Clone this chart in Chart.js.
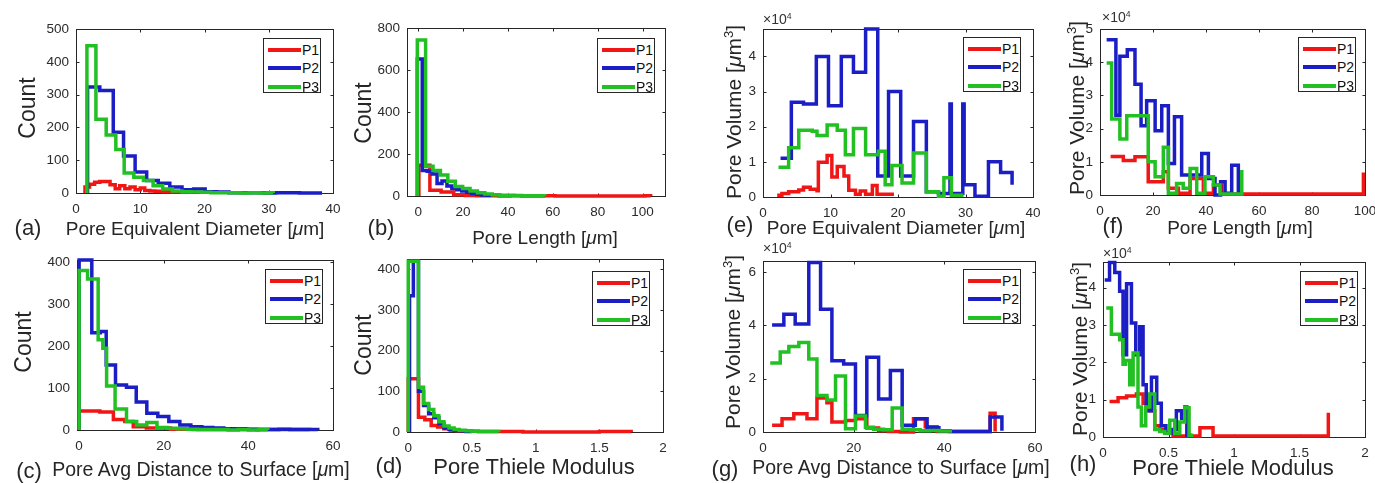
<!DOCTYPE html>
<html>
<head>
<meta charset="utf-8">
<script src="https://cdn.jsdelivr.net/npm/chart.js@4.4.1/dist/chart.umd.min.js"></script>
<style>
  html,body{margin:0;padding:0;background:#fff;}
  #wrap{position:relative;width:1375px;height:483px;overflow:hidden;background:#fff;
        font-family:"Liberation Sans",Arial,Helvetica,sans-serif;color:#262626;}
  #wrap canvas{position:absolute;}
  .t{position:absolute;white-space:nowrap;line-height:1;transform:translate(-50%,-50%);}
  .ty{position:absolute;white-space:nowrap;line-height:1;transform:translate(-50%,-50%) rotate(-90deg);}
  .mult{position:absolute;white-space:nowrap;line-height:1;font-size:14px;color:#333;}
  sup{font-size:0.62em;vertical-align:0.55em;line-height:0;}
  .leg{position:absolute;width:58px;height:55px;border:1px solid #262626;background:#fff;box-sizing:border-box;}
  .leg .row{position:absolute;left:0;height:16px;width:58px;}
  .leg .ln{position:absolute;left:4px;top:6px;width:33px;height:4px;}
  .leg .lb{position:absolute;left:38px;top:1px;font-size:14px;line-height:14px;color:#111;}
</style>
</head>
<body>
<div id="wrap"></div>
<script>
// ---------------- series names & colours ----------------
const NAMES = ['P1', 'P2', 'P3'];
const COLORS = ['#f01616', '#1a1ec4', '#22c022'];

// ---------------- (a) Pore Equivalent Diameter – Count ----------------
const a_xTicks = [0, 10, 20, 30, 40];
const a_yTicks = [0, 100, 200, 300, 400, 500];
const a_P1_x = [1.4,1.4,2.1,2.9,3.7,5.3,6.1,6.8,7.6,8.4,9.2,10.0,10.7,11.5,12.3,13.5,15.0,16.5,18.0];
const a_P1_y = [0,18,27,33,35,25,13,22,13,18,10,15,8,6,5,4,3,2,0];
const a_P2_x = [1.8,1.8,3.7,5.8,7.4,9.2,11.0,12.8,14.6,16.5,18.3,20.1,21.9,23.8,25.6,27.5,29.3,31.1,33.0,34.8,36.6,38.3];
const a_P2_y = [0,323,313,185,113,64,38,30,18,10,12,4,3,1,1,1,0,1,1,0,0,0];
const a_P3_x = [1.7,1.7,3.1,4.7,6.2,7.5,9.0,10.5,12.0,13.5,15.0,16.5,18.0,19.5,21.0,22.5,24.0,25.5,27.0,28.5,30.0,30.7];
const a_P3_y = [0,449,225,177,133,61,48,38,22,12,6,4,3,2,1,1,1,0,1,0,1,0];

// ---------------- (b) Pore Length – Count ----------------
const b_xTicks = [0, 20, 40, 60, 80, 100];
const b_yTicks = [0, 200, 400, 600, 800];
const b_P1_x = [0.3,0.3,5.2,10.2,15.8,21.0,26.0,31.0,36.0,41.0,46.0,51.0,56.0,61.0,66.0,71.0,76.0,81.0,86.0,91.0,96.0,101.0,103.6];
const b_P1_y = [0,146,27,19,6,2,1,1,0,1,0,0,1,0,0,0,0,0,0,0,0,1,0];
const b_P2_x = [-0.4,-0.4,1.8,4.0,6.2,8.4,10.6,12.8,15.0,17.2,19.4,21.6,23.8,26.0,28.2,30.4,32.6];
const b_P2_y = [0,653,122,118,105,60,72,48,36,30,24,18,12,8,5,3,0];
const b_P3_x = [-0.4,-0.4,3.3,6.6,9.9,13.2,16.5,19.8,23.1,26.4,29.7,33.0,36.3,39.6,42.9,46.2,49.5,52.8,56.4];
const b_P3_y = [0,743,142,122,100,70,45,36,24,15,10,6,4,3,2,1,1,1,0];

// ---------------- (c) Pore Avg Distance to Surface – Count ----------------
const c_xTicks = [0, 20, 40, 60];
const c_yTicks = [0, 100, 200, 300, 400];
const c_P1_x = [0,0,4.9,8.1,10.8,12.8,15.9,21.6,27.0,32.0,37.0,42.0,47.0,52.0,54.5];
const c_P1_y = [0,45,43,25,20,8,5,2,1,1,1,1,1,1,0];
const c_P2_x = [0,0,3.0,5.0,6.4,8.6,11.2,13.5,16.0,18.6,21.2,23.8,26.4,29.0,31.6,34.2,36.8,39.4,42.0,44.6,47.2,49.8,52.4,55.0,56.4];
const c_P2_y = [0,405,232,235,155,107,102,67,40,32,20,12,8,6,5,3,3,2,1,1,2,1,1,1,0];
const c_P3_x = [0,0,2.0,4.5,5.6,6.5,8.5,11.2,13.6,16.0,18.4,20.8,23.2,25.6,28.0,30.4,32.8,35.2,37.6,40.0,42.4,44.6];
const c_P3_y = [0,380,360,215,195,105,50,20,12,18,6,4,3,2,1,1,1,0,1,0,1,0];

// ---------------- (d) Pore Thiele Modulus – Count ----------------
const d_xTicks = [0, 0.5, 1, 1.5, 2];
const d_yTicks = [0, 100, 200, 300, 400];
const d_P1_x = [0,0,0.08,0.13,0.18,0.23,0.28,0.33,0.38,0.45,0.55,0.7,0.9,1.1,1.3,1.5,1.75];
const d_P1_y = [0,131,36,30,16,12,8,5,3,2,1,1,0,0,0,1,0];
const d_P2_x = [0.01,0.01,0.04,0.08,0.12,0.16,0.2,0.24,0.28,0.32,0.36,0.4,0.45,0.5];
const d_P2_y = [0,335,420,100,65,45,35,20,10,6,4,3,1,0];
const d_P3_x = [0,0,0.08,0.12,0.16,0.2,0.24,0.28,0.32,0.36,0.4,0.45,0.5,0.55,0.6,0.65,0.71];
const d_P3_y = [0,420,110,70,55,40,25,15,10,6,4,3,2,1,1,1,0];

// ---------------- (e) Pore Equivalent Diameter – Pore Volume (x10^4 um^3) ----------------
const e_xTicks = [0, 10, 20, 30, 40];
const e_yTicks = [0, 1, 2, 3, 4];
const e_P1_x = [2.1,2.8,3.8,5.3,6.0,7.0,8.0,8.2,9.5,10.2,11.0,12.0,12.7,13.7,14.4,15.2,16.2,16.9,19.4];
const e_P1_y = [0.05,0.1,0.15,0.2,0.28,0.22,0.18,0.99,1.18,0.57,0.87,0.6,0.19,0.08,0.17,0.08,0.33,0.08,0.08];
const e_P2_x = [2.6,4.2,6.0,7.9,9.7,11.6,13.4,15.2,17.0,18.6,20.4,22.3,24.2,26.0,27.7,27.9,29.6,29.8,31.4,33.4,35.2,36.9];
const e_P2_y = [1.1,2.7,2.65,4.0,2.6,4.0,3.55,4.78,0.6,3.0,0.6,2.15,0.15,0.1,2.65,0.1,2.65,0.35,0.02,1.0,0.7,0.35];
const e_P3_x = [2.3,3.8,5.3,7.3,8.0,9.5,11.0,12.2,13.4,15.2,17.1,18.1,19.1,20.6,22.3,24.2,26.0,26.8,27.9,29.7];
const e_P3_y = [0.85,1.4,1.9,1.87,1.75,2.05,1.9,1.2,1.95,1.2,1.3,0.35,0.9,0.4,1.25,0.15,0.02,0.55,0.05,0.05];

// ---------------- (f) Pore Length – Pore Volume (x10^4 um^3) ----------------
const f_xTicks = [0, 20, 40, 60, 80, 100];
const f_yTicks = [0, 1, 2, 3, 4, 5];
const f_P1_x = [4.0,8.8,13.2,18.2,23.9,25.8,29.6,34.0,39.0,42.8,45.9,99.4];
const f_P1_y = [1.16,1.04,1.15,0.4,0.7,0.2,0.05,0.5,0.05,0.3,0.03,0.68];
const f_P2_x = [2.5,6.0,7.5,10.3,13.2,15.5,17.6,20.8,23.3,25.8,28.1,30.8,33.3,35.8,38.4,40.9,43.4,45.5,47.2,49.7,52.2];
const f_P2_y = [4.68,2.4,4.18,4.38,3.34,2.09,2.84,1.94,2.69,0.95,2.36,0.6,0.6,0.6,1.25,0.5,0.0,0.4,0.05,0.9,0.05];
const f_P3_x = [2.5,4.4,7.5,10.1,18.2,20.8,23.9,25.8,28.9,31.4,34.0,36.5,39.6,42.8,45.3,53.5];
const f_P3_y = [3.98,2.29,1.69,2.39,1.0,0.55,1.44,0.05,0.35,0.2,0.8,0.05,0.55,0.3,0.03,0.75];

// ---------------- (g) Pore Avg Distance to Surface – Pore Volume (x10^4 um^3) ----------------
const g_xTicks = [0, 20, 40, 60];
const g_yTicks = [0, 2, 4, 6];
const g_P1_x = [2.0,4.2,6.8,9.7,11.9,14.1,15.2,18.2,20.4,22.9,25.5,27.7,30.3,33.2,35.8,38.4,50.1,51.2];
const g_P1_y = [0.25,0.5,0.68,0.5,1.27,1.1,0.37,0.43,0.5,0.15,0.05,0.02,0.0,0.5,0.2,0.02,0.7,0.02];
const g_P2_x = [2.0,4.6,7.1,10.1,12.7,15.2,17.8,20.4,22.9,25.5,28.1,30.7,33.6,36.2,38.8,41.3,43.9,46.4,50.1,52.7];
const g_P2_y = [4.01,4.41,4.04,6.35,4.6,2.67,2.55,0.62,2.8,1.24,2.3,0.25,0.5,0.16,0.05,0.02,0.02,0.02,0.56,0.05];
const g_P3_x = [1.6,3.8,5.7,7.9,10.1,11.9,14.1,16.0,18.2,20.4,22.6,24.4,26.6,28.5,30.7,32.5,34.7,36.9,39.0,41.7];
const g_P3_y = [2.58,3.0,3.2,3.35,2.73,1.37,1.2,2.1,0.12,0.6,0.18,0.1,0.08,0.9,0.1,0.08,0.05,0.06,0.04,0.04];

// ---------------- (h) Pore Thiele Modulus – Pore Volume (x10^4 um^3) ----------------
const h_xTicks = [0, 0.5, 1, 1.5, 2];
const h_yTicks = [0, 1, 2, 3, 4];
const h_P1_x = [0.05,0.115,0.18,0.255,0.306,0.357,0.395,0.433,0.471,0.535,0.74,0.84,1.72];
const h_P1_y = [0.95,1.05,1.1,1.15,0.9,0.7,0.3,0.2,0.1,0.03,0.25,0.03,0.65];
const h_P2_x = [0.013,0.05,0.09,0.127,0.153,0.18,0.217,0.25,0.28,0.306,0.33,0.37,0.41,0.445,0.48,0.52,0.56,0.6,0.625,0.64,0.675];
const h_P2_y = [4.2,4.67,4.4,3.9,2.2,4.1,3.05,2.2,2.95,1.4,0.7,1.6,0.9,0.3,0.1,0.2,0.7,0.5,0.8,0.05,0.05];
const h_P3_x = [0.025,0.064,0.127,0.153,0.173,0.204,0.23,0.267,0.293,0.326,0.357,0.395,0.433,0.471,0.51,0.548,0.586,0.624,0.657,0.69];
const h_P3_y = [3.45,2.75,2.6,1.95,2.05,1.4,2.25,0.8,0.3,0.8,1.15,0.2,0.15,0.1,0.45,0.1,0.4,0.78,0.05,0.05];

// ---------------- text ----------------
const UM = '[<i>&mu;</i>m]';
const VOL = 'Pore Volume [<i>&mu;</i>m<sup>3</sup>]';

// ---------------- layout (positions only) ----------------
const panels = [
  {tag:'(a)', area:[76,28,333,193],  xr:[0,40],  xt:a_xTicks, yr:[0,500],  yt:a_yTicks,
   s:[[a_P1_x,a_P1_y],[a_P2_x,a_P2_y],[a_P3_x,a_P3_y]],
   xTitle:'Pore Equivalent Diameter '+UM, xPos:[195,228,19], yTitle:'Count', yPos:[27,108,23],
   tagPos:[28,228], leg:[263,38]},
  {tag:'(b)', area:[407,27,665,196], xr:[-5,110], xt:b_xTicks, yr:[0,800], yt:b_yTicks,
   s:[[b_P1_x,b_P1_y],[b_P2_x,b_P2_y],[b_P3_x,b_P3_y]],
   xTitle:'Pore Length '+UM, xPos:[545,237,19], yTitle:'Count', yPos:[363,113,23],
   tagPos:[381,228], leg:[597,38]},
  {tag:'(e)', area:[763,28,1033,197], xr:[0,40], xt:e_xTicks, yr:[0,4.78], yt:e_yTicks,
   s:[[e_P1_x,e_P1_y],[e_P2_x,e_P2_y],[e_P3_x,e_P3_y]],
   xTitle:'Pore Equivalent Diameter '+UM, xPos:[896,227,19], yTitle:VOL, yPos:[733,112,21],
   tagPos:[740,225], leg:[963,37], mult:[763,12]},
  {tag:'(f)', area:[1100,28,1365,195], xr:[0,100], xt:f_xTicks, yr:[0,5], yt:f_yTicks,
   s:[[f_P1_x,f_P1_y],[f_P2_x,f_P2_y],[f_P3_x,f_P3_y]],
   xTitle:'Pore Length '+UM, xPos:[1240,227,19], yTitle:VOL, yPos:[1076,108,21],
   tagPos:[1113,226], leg:[1298,37], mult:[1102,10]},
  {tag:'(c)', area:[77,259,333,430], xr:[-0.5,60], xt:c_xTicks, yr:[0,405], yt:c_yTicks,
   s:[[c_P1_x,c_P1_y],[c_P2_x,c_P2_y],[c_P3_x,c_P3_y]],
   xTitle:'Pore Avg Distance to Surface '+UM, xPos:[201,470,19.5], yTitle:'Count', yPos:[23,342,23],
   tagPos:[29,471], leg:[265,269]},
  {tag:'(d)', area:[407,258,663,432], xr:[-0.01,2], xt:d_xTicks, yr:[0,425], yt:d_yTicks,
   s:[[d_P1_x,d_P1_y],[d_P2_x,d_P2_y],[d_P3_x,d_P3_y]],
   xTitle:'Pore Thiele Modulus', xPos:[534,467,22], yTitle:'Count', yPos:[363,345,23],
   tagPos:[389,466], leg:[592,271]},
  {tag:'(g)', area:[763,260,1035,432], xr:[0,60], xt:g_xTicks, yr:[0,6.4], yt:g_yTicks,
   s:[[g_P1_x,g_P1_y],[g_P2_x,g_P2_y],[g_P3_x,g_P3_y]],
   xTitle:'Pore Avg Distance to Surface '+UM, xPos:[901,468,19.5], yTitle:VOL, yPos:[732,342,21],
   tagPos:[725,469], leg:[963,269], mult:[763,241]},
  {tag:'(h)', area:[1103,261,1365,437], xr:[0,2], xt:h_xTicks, yr:[0,4.68], yt:h_yTicks,
   s:[[h_P1_x,h_P1_y],[h_P2_x,h_P2_y],[h_P3_x,h_P3_y]],
   xTitle:'Pore Thiele Modulus', xPos:[1233,468,22], yTitle:VOL, yPos:[1079,349,21],
   tagPos:[1083,464], leg:[1300,271], mult:[1103,246]}
];

Chart.defaults.font.family = '"Liberation Sans", Arial, Helvetica, sans-serif';

// MATLAB-like box with inward ticks on all four sides
const boxPlugin = {
  id: 'matlabBox',
  beforeDatasetsDraw(chart) {
    const {ctx, chartArea} = chart;
    const {left, top, right, bottom} = chartArea;
    const xs = chart.scales.x, ys = chart.scales.y;
    const L = Math.round(left) + 0.5, T = Math.round(top) + 0.5;
    const R = Math.round(right) + 0.5, B = Math.round(bottom) + 0.5;
    ctx.save();
    ctx.strokeStyle = '#262626';
    ctx.lineWidth = 1;
    ctx.strokeRect(L, T, R - L, B - T);
    ctx.beginPath();
    const tl = 3;
    xs.ticks.forEach(t => {
      const px = Math.round(xs.getPixelForValue(t.value)) + 0.5;
      ctx.moveTo(px, B); ctx.lineTo(px, B - tl);
      ctx.moveTo(px, T); ctx.lineTo(px, T + tl);
    });
    ys.ticks.forEach(t => {
      const py = Math.round(ys.getPixelForValue(t.value)) + 0.5;
      ctx.moveTo(L, py); ctx.lineTo(L + tl, py);
      ctx.moveTo(R, py); ctx.lineTo(R - tl, py);
    });
    ctx.stroke();
    ctx.restore();
  }
};

const wrap = document.getElementById('wrap');

function addText(cls, html, x, y, size) {
  const d = document.createElement('div');
  d.className = cls;
  d.innerHTML = html;
  d.style.left = x + 'px';
  d.style.top = y + 'px';
  if (size) d.style.fontSize = size + 'px';
  wrap.appendChild(d);
  return d;
}

function addLegend(x, y) {
  const box = document.createElement('div');
  box.className = 'leg';
  box.style.left = x + 'px';
  box.style.top = y + 'px';
  NAMES.forEach((n, i) => {
    const row = document.createElement('div');
    row.className = 'row';
    row.style.top = (3 + i * 18.3) + 'px';
    const ln = document.createElement('div');
    ln.className = 'ln';
    ln.style.background = COLORS[i];
    const lb = document.createElement('div');
    lb.className = 'lb';
    lb.textContent = n;
    row.appendChild(ln); row.appendChild(lb);
    box.appendChild(row);
  });
  wrap.appendChild(box);
}

function makePanel(p) {
  const [L, T, R, B] = p.area;
  const padL = 46, padT = 14, padR = 20, padB = 30;
  const cv = document.createElement('canvas');
  cv.width = (R - L) + padL + padR;
  cv.height = (B - T) + padT + padB;
  cv.style.left = (L - padL) + 'px';
  cv.style.top = (T - padT) + 'px';
  wrap.appendChild(cv);

  const datasets = p.s.map((s, i) => ({
    label: NAMES[i],
    data: s[0].map((xv, j) => ({x: xv, y: s[1][j]})),
    borderColor: COLORS[i],
    backgroundColor: COLORS[i],
    borderWidth: 3.5,
    stepped: 'before',
    pointRadius: 0,
    fill: false,
    tension: 0,
    order: 3 - i,
    clip: false,
    borderJoinStyle: 'miter',
    borderCapStyle: 'butt'
  }));

  const tickFont = {size: 13.5};
  new Chart(cv.getContext('2d'), {
    type: 'line',
    data: {datasets},
    options: {
      responsive: false,
      animation: false,
      devicePixelRatio: 1,
      events: [],
      layout: {padding: {left: 0, top: padT, right: padR, bottom: 0}},
      plugins: {legend: {display: false}, tooltip: {enabled: false}, title: {display: false}},
      scales: {
        x: {
          type: 'linear', min: p.xr[0], max: p.xr[1],
          grid: {display: false, drawTicks: false},
          border: {display: false},
          ticks: {font: tickFont, color: '#2b2b2b', padding: 8, maxRotation: 0, autoSkip: false,
                  callback: v => String(v)},
          afterBuildTicks: sc => { sc.ticks = p.xt.map(v => ({value: v})); },
          afterFit: sc => { sc.height = padB; }
        },
        y: {
          type: 'linear', min: p.yr[0], max: p.yr[1],
          grid: {display: false, drawTicks: false},
          border: {display: false},
          ticks: {font: tickFont, color: '#2b2b2b', padding: 7, autoSkip: false,
                  callback: v => String(v)},
          afterBuildTicks: sc => { sc.ticks = p.yt.map(v => ({value: v})); },
          afterFit: sc => { sc.width = padL; }
        }
      }
    },
    plugins: [boxPlugin]
  });

  addText('t', p.xTitle, p.xPos[0], p.xPos[1], p.xPos[2]);
  addText('ty', p.yTitle, p.yPos[0], p.yPos[1], p.yPos[2]);
  addText('t', p.tag, p.tagPos[0], p.tagPos[1], 22);
  if (p.mult) addText('mult', '&times;10<sup>4</sup>', p.mult[0], p.mult[1]);
  addLegend(p.leg[0], p.leg[1]);
}

panels.forEach(makePanel);
</script>
</body>
</html>
